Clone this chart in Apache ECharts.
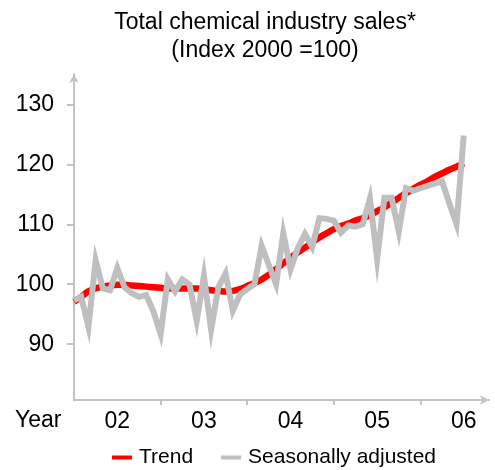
<!DOCTYPE html>
<html>
<head>
<meta charset="utf-8">
<script src="https://cdn.jsdelivr.net/npm/echarts@6/dist/echarts.min.js"></script>
<style>
  html, body { margin: 0; padding: 0; background: #fff; }
  #chart { width: 495px; height: 470px; }
</style>
</head>
<body>
<div id="chart"></div>
<script>
// Monthly index values, January 2002 onwards (Index 2000 = 100)
const trendValues = [
  97.1, 97.9, 98.8, 99.3, 99.6, 99.8, 99.9, 99.9, 99.8, 99.7, 99.6, 99.5,
  99.4, 99.3, 99.3, 99.3, 99.3, 99.3, 99.2, 99.0, 98.9, 98.8, 98.9, 99.2,
  99.7, 100.2, 100.8, 101.6, 102.5, 103.5, 104.4, 105.3, 106.1, 107.0, 107.8, 108.5,
  109.2, 109.7, 110.1, 110.6, 111.0, 111.5, 112.2, 112.8, 113.6, 114.4, 115.2, 115.9,
  116.6, 117.2, 117.9, 118.5, 119.1, 119.6, 120.2
];
const adjustedValues = [
  97.3, 97.9, 92.9, 104.0, 99.3, 99.0, 102.7, 99.5, 98.5, 97.9, 98.2, 95.5,
  91.7, 100.8, 98.8, 100.8, 100.0, 93.9, 101.4, 92.4, 99.5, 101.8, 95.6, 98.3,
  99.2, 100.0, 106.4, 103.2, 100.0, 108.5, 102.5, 106.0, 108.4, 106.2, 111.0, 110.9,
  110.6, 108.6, 109.8, 109.6, 110.0, 114.3, 104.2, 114.4, 114.4, 108.8, 116.0, 115.6,
  116.0, 116.4, 116.8, 117.1, 113.5, 110.0, 124.8
];
const yearLabels = ['02', '03', '04', '05', '06'];
const yearLabelMonths = [6, 18, 30, 42, 54];
const yearBoundaryMonths = [12, 24, 36, 48];
const yTicks = [90, 100, 110, 120, 130];

const FONT = 'Liberation Sans, Arial, sans-serif';
const AXIS_GREY = '#c3c3c3';

const chart = echarts.init(document.getElementById('chart'), null, { renderer: 'canvas' });

chart.setOption({
  animation: false,
  backgroundColor: '#ffffff',
  title: {
    text: 'Total chemical industry sales*\n(Index 2000 =100)',
    left: 260,
    top: 4,
    textAlign: 'center',
    textStyle: { fontFamily: FONT, fontSize: 23, fontWeight: 'normal', color: '#000', lineHeight: 28 }
  },
  legend: {
    left: 107,
    top: 442,
    icon: 'rect',
    itemWidth: 20,
    itemHeight: 4,
    itemGap: 28,
    textStyle: { fontFamily: FONT, fontSize: 21, color: '#000', padding: [0, 0, 0, 2] },
    data: ['Trend', 'Seasonally adjusted']
  },
  grid: { left: 74, right: 6, top: 74, bottom: 70 },
  xAxis: {
    type: 'value',
    min: 0,
    max: 57.5,
    axisLine: {
      show: true,
      symbol: ['none', 'arrow'],
      symbolSize: [7, 9],
      lineStyle: { color: AXIS_GREY, width: 2 }
    },
    axisTick: {
      show: true,
      customValues: yearBoundaryMonths,
      length: 5,
      lineStyle: { color: AXIS_GREY, width: 2 }
    },
    axisLabel: {
      customValues: yearLabelMonths,
      formatter: (v) => yearLabels[yearLabelMonths.indexOf(v)],
      margin: 10,
      fontFamily: FONT,
      fontSize: 23,
      color: '#000'
    },
    splitLine: { show: false }
  },
  yAxis: {
    type: 'value',
    min: 80.7,
    max: 135.05,
    axisLine: {
      show: true,
      symbol: ['none', 'arrow'],
      symbolSize: [7, 9],
      lineStyle: { color: AXIS_GREY, width: 2 }
    },
    axisTick: {
      show: true,
      customValues: yTicks,
      length: 7,
      lineStyle: { color: AXIS_GREY, width: 2 }
    },
    axisLabel: {
      customValues: yTicks,
      margin: 20,
      fontFamily: FONT,
      fontSize: 23,
      color: '#000'
    },
    splitLine: { show: false }
  },
  graphic: [{
    type: 'text',
    left: 15,
    top: 409,
    style: { text: 'Year', font: '23px ' + FONT, fill: '#000' }
  }],
  series: [
    {
      name: 'Trend',
      type: 'line',
      data: trendValues.map((v, i) => [i, v]),
      smooth: true,
      showSymbol: false,
      symbol: 'none',
      itemStyle: { color: '#ff0000' },
      lineStyle: { color: '#ff0000', width: 6.5 },
      z: 2
    },
    {
      name: 'Seasonally adjusted',
      type: 'line',
      data: adjustedValues.map((v, i) => [i, v]),
      showSymbol: false,
      symbol: 'none',
      itemStyle: { color: '#bfbfbf' },
      lineStyle: { color: '#bfbfbf', width: 6, join: 'miter' },
      z: 3
    }
  ]
});
</script>
</body>
</html>
